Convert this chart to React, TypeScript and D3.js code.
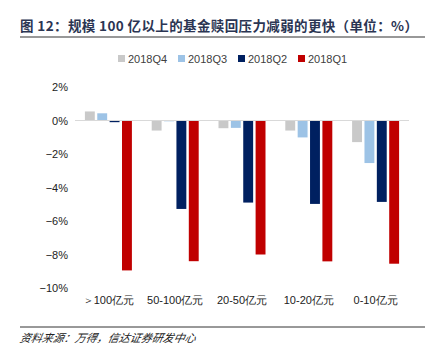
import { useRef, useEffect } from 'react';
import * as d3 from 'd3';

const categories = ['＞100亿元', '50-100亿元', '20-50亿元', '10-20亿元', '0-10亿元'];
const seriesNames = ['2018Q4', '2018Q3', '2018Q2', '2018Q1'];
const q4 = [0.54, -0.6, -0.46, -0.6, -1.29];
const q3 = [0.43, -0.02, -0.44, -1.01, -2.54];
const q2 = [-0.1, -5.28, -4.9, -4.98, -4.86];
const q1 = [-8.95, -8.4, -8.0, -8.41, -8.55];
const yTicks = [2, 0, -2, -4, -6, -8, -10];
const colors = ['#c9c9c9', '#9dc3e6', '#002060', '#c00000'];

const title = '图 12：规模 100 亿以上的基金赎回压力减弱的更快（单位：%）';
const source = '资料来源：万得，信达证券研发中心';

const App = () => {
  const svgRef = useRef<SVGSVGElement>(null);

  useEffect(() => {
    const W = 437, H = 352;
    const svg = d3.select(svgRef.current)
      .attr('width', W)
      .attr('height', H)
      .style('position', 'absolute')
      .style('left', 0)
      .style('top', 0);
    svg.selectAll('*').remove();

    const font = '"Liberation Sans", Arial, sans-serif';
    const series = [q4, q3, q2, q1];

    // title
    svg.append('text')
      .attr('x', 20).attr('y', 31)
      .attr('font-family', '"Noto Sans CJK SC", sans-serif')
      .attr('font-weight', 'bold')
      .attr('font-size', 13.5)
      .attr('fill', '#2b3553')
      .attr('textLength', 398)
      .text(title);
    svg.append('line')
      .attr('x1', 20).attr('x2', 425).attr('y1', 37).attr('y2', 37)
      .attr('stroke', '#333').attr('stroke-width', 1.2);

    // legend
    const lg = svg.append('g').attr('font-family', font).attr('font-size', 11).attr('fill', '#404040');
    seriesNames.forEach((n, i) => {
      const x = 118 + i * 60;
      lg.append('rect').attr('x', x).attr('y', 55).attr('width', 7).attr('height', 7).attr('fill', colors[i]);
      lg.append('text').attr('x', x + 10).attr('y', 63).text(n);
    });

    const x0 = d3.scaleBand().domain(categories).range([75, 409]);
    const x1 = d3.scaleBand().domain(seriesNames).range([0, 47]).paddingInner(0.2);
    const y = d3.scaleLinear().domain([-10, 2]).range([288, 87]);

    // y axis
    const ya = svg.append('g')
      .attr('transform', 'translate(68,0)')
      .call(d3.axisLeft(y).tickValues(yTicks).tickSize(0).tickPadding(0)
        .tickFormat(d => `${d}%`));
    ya.select('.domain').remove();
    ya.selectAll('text')
      .attr('font-family', font).attr('font-size', 11).attr('fill', '#222')
      .text(d => (d as number) < 0 ? `\u2212${-(d as number)}%` : `${d}%`);

    // bars
    const g = svg.append('g');
    categories.forEach((c, ci) => {
      const cx = (x0(c) as number) + x0.bandwidth() / 2 - 23.5;
      series.forEach((s, si) => {
        const v = s[ci];
        g.append('rect')
          .attr('x', cx + (x1(seriesNames[si]) as number))
          .attr('y', y(Math.max(0, v)))
          .attr('width', x1.bandwidth())
          .attr('height', Math.max(0.8, Math.abs(y(v) - y(0))))
          .attr('fill', colors[si]);
      });
    });

    // zero line
    svg.append('line')
      .attr('x1', 75).attr('x2', 409).attr('y1', y(0)).attr('y2', y(0))
      .attr('stroke', '#d9d9d9').attr('stroke-width', 1);

    // x axis labels
    const xa = svg.append('g')
      .attr('transform', 'translate(0,300)')
      .call(d3.axisBottom(x0).tickSize(0).tickPadding(0));
    xa.select('.domain').remove();
    xa.selectAll('text')
      .attr('font-family', font).attr('font-size', 11).attr('fill', '#222')
      .attr('dy', '0.35em');

    // footer
    svg.append('line')
      .attr('x1', 20).attr('x2', 425).attr('y1', 327).attr('y2', 327)
      .attr('stroke', '#333').attr('stroke-width', 1);
    svg.append('text')
      .attr('x', 20).attr('y', 342)
      .attr('font-family', '"Noto Sans CJK SC", sans-serif')
      .attr('font-style', 'italic')
      .attr('font-size', 11)
      .attr('fill', '#222')
      .attr('transform', 'skewX(-12) translate(72,0)')
      .text(source);
  }, []);

  return <svg ref={svgRef}></svg>;
};

export default App;
